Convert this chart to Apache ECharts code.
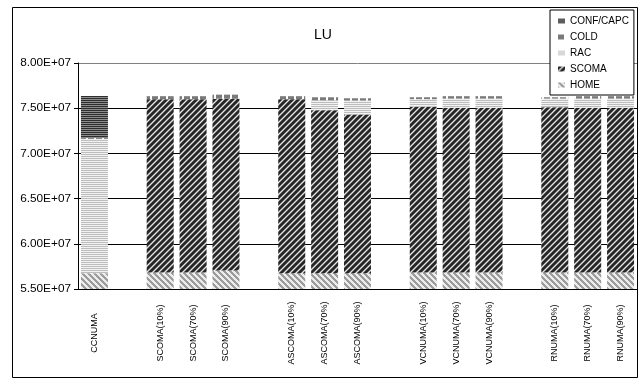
<!DOCTYPE html>
<html>
<head>
<meta charset="utf-8">
<script src="https://cdn.jsdelivr.net/npm/echarts@6/dist/echarts.min.js"></script>
<style>
  html, body { margin: 0; padding: 0; background: #fff; }
  #chart { width: 641px; height: 381px; }
</style>
</head>
<body>
<div id="chart"></div>
<script>
// Configurations on the x axis; blank entries separate the groups
const categories = [
  'CCNUMA', '',
  'SCOMA(10%)', 'SCOMA(70%)', 'SCOMA(90%)', ' ',
  'ASCOMA(10%)', 'ASCOMA(70%)', 'ASCOMA(90%)', '  ',
  'VCNUMA(10%)', 'VCNUMA(70%)', 'VCNUMA(90%)', '   ',
  'RNUMA(10%)', 'RNUMA(70%)', 'RNUMA(90%)'
];

// Stacked components, bottom to top
const homeValues  = [5.675e7, null, 5.682e7, 5.682e7, 5.704e7, null, 5.675e7, 5.675e7, 5.675e7, null, 5.682e7, 5.682e7, 5.682e7, null, 5.682e7, 5.682e7, 5.682e7];
const scomaValues = [0, null, 1.917e7, 1.917e7, 1.901e7, null, 1.925e7, 1.803e7, 1.755e7, null, 1.835e7, 1.823e7, 1.823e7, null, 1.829e7, 1.823e7, 1.823e7];
const racValues   = [1.485e7, null, 0, 0, 0, null, 0, 0.110e7, 0.155e7, null, 0.083e7, 0.102e7, 0.102e7, null, 0.096e7, 0.102e7, 0.102e7];
const coldValues  = [0.010e7, null, 0.034e7, 0.034e7, 0.045e7, null, 0.033e7, 0.033e7, 0.025e7, null, 0.021e7, 0.026e7, 0.026e7, null, 0.014e7, 0.026e7, 0.026e7];
const confValues  = [0.465e7, null, 0, 0, 0, null, 0, 0, 0, null, 0, 0, 0, null, 0, 0, 0];

const legendOrder = ['CONF/CAPC', 'COLD', 'RAC', 'SCOMA', 'HOME'];

const FONT = '"Liberation Sans", Arial, sans-serif';

// Small repeating tiles used as fill patterns
function tile(w, h, colorAt) {
  const c = document.createElement('canvas');
  c.width = w; c.height = h;
  const ctx = c.getContext('2d');
  for (let y = 0; y < h; y++) {
    for (let x = 0; x < w; x++) {
      ctx.fillStyle = colorAt(x, y);
      ctx.fillRect(x, y, 1, 1);
    }
  }
  return { image: c, repeat: 'repeat' };
}

const patterns = {
  HOME: tile(6, 6, (x, y) => ((x - y + 60) % 6) < 3 ? '#9c9c9c' : '#ececec'),
  SCOMA: tile(6, 6, (x, y) => {
    const k = (x + y) % 6;
    return k < 3 ? '#262626' : (k === 4 ? '#e6e6e6' : '#7e7e7e');
  }),
  RAC: tile(1, 2, (x, y) => y % 2 ? '#f2f2f2' : '#bdbdbd'),
  COLD: tile(8, 1, (x) => x % 8 < 6 ? '#7a7a7a' : '#ffffff'),
  'CONF/CAPC': tile(1, 2, (x, y) => y % 2 ? '#8c8c8c' : '#2e2e2e')
};

function sci(v) {
  if (!v) return '0.00E+00';
  const exp = Math.floor(Math.log10(Math.abs(v)) + 1e-9);
  const mant = v / Math.pow(10, exp);
  return mant.toFixed(2) + 'E+' + String(exp).padStart(2, '0');
}

function barSeries(name, values) {
  return {
    name: name,
    type: 'bar',
    stack: 'total',
    barWidth: 27,
    data: values,
    itemStyle: { color: patterns[name] },
    emphasis: { disabled: true },
    silent: true
  };
}

const chart = echarts.init(document.getElementById('chart'), null, { renderer: 'canvas' });

chart.setOption({
  animation: false,
  backgroundColor: '#ffffff',
  title: {
    text: 'LU',
    left: 318,
    top: 23,
    textAlign: 'center',
    textStyle: { fontFamily: FONT, fontSize: 14, fontWeight: 'normal', color: '#000' }
  },
  legend: {
    data: legendOrder,
    orient: 'vertical',
    left: 550,
    top: 10,
    itemWidth: 7,
    itemHeight: 5,
    itemGap: 4,
    padding: [5, 5, 4, 8],
    borderColor: '#000',
    borderWidth: 1,
    backgroundColor: '#fff',
    icon: 'rect',
    selectedMode: false,
    textStyle: { fontFamily: FONT, fontSize: 10, color: '#000', lineHeight: 12 }
  },
  grid: { left: 78, right: 4, top: 63, bottom: 92, containLabel: false },
  xAxis: {
    type: 'category',
    data: categories,
    axisLine: { show: true, lineStyle: { color: '#000', width: 1 } },
    axisTick: { show: false },
    axisLabel: {
      interval: 0,
      rotate: 90,
      align: 'center',
      verticalAlign: 'middle',
      margin: 44,
      fontFamily: FONT,
      fontSize: 9,
      color: '#000'
    },
    splitLine: { show: false }
  },
  yAxis: {
    type: 'value',
    min: 5.5e7,
    max: 8.0e7,
    interval: 5e6,
    axisLine: { show: true, lineStyle: { color: '#000', width: 1 } },
    axisTick: { show: true, inside: false, length: 4, lineStyle: { color: '#000' } },
    axisLabel: {
      margin: 7,
      fontFamily: FONT,
      fontSize: 11.8,
      color: '#000',
      formatter: sci
    },
    splitLine: {
      show: true,
      lineStyle: { color: ['#000', '#000', '#000', '#000', '#000', '#808080'], width: 1 }
    }
  },
  graphic: [{
    type: 'rect',
    shape: { x: 12.5, y: 7.5, width: 625, height: 370 },
    style: { fill: null, stroke: '#000', lineWidth: 1 },
    silent: true,
    z: -1
  }],
  series: [
    barSeries('HOME', homeValues),
    barSeries('SCOMA', scomaValues),
    barSeries('RAC', racValues),
    barSeries('COLD', coldValues),
    barSeries('CONF/CAPC', confValues)
  ]
});
</script>
</body>
</html>
